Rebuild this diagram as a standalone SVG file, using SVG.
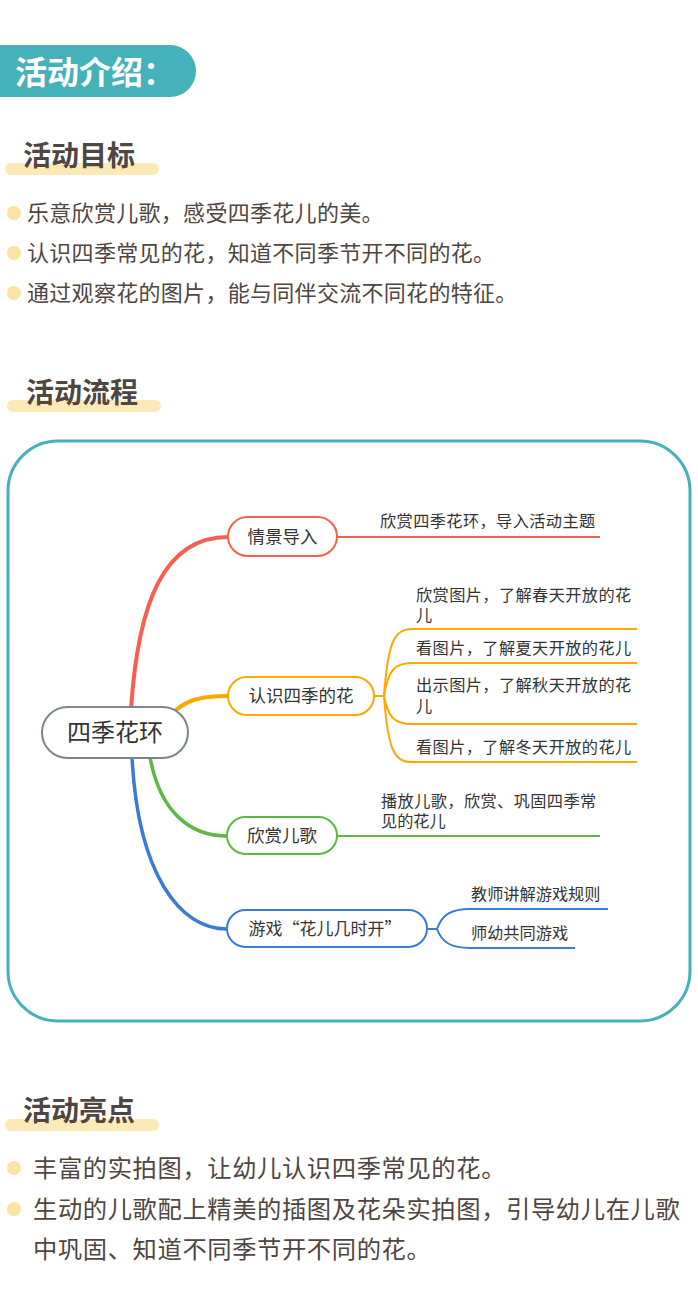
<svg xmlns="http://www.w3.org/2000/svg" width="698" height="1300" viewBox="0 0 698 1300">
<style>
.h{font-family:"Noto Sans CJK SC",sans-serif;font-weight:bold;fill:#4f4541;font-size:28px}
.b{font-family:"Noto Sans CJK SC",sans-serif;fill:#4f4541}
.m{font-family:"Noto Sans CJK SC",sans-serif;fill:#333333;font-size:16.2px}
.n{font-family:"Noto Sans CJK SC",sans-serif;fill:#333333;font-size:17.5px;text-anchor:middle}
.bar{fill:#FDE9B5}
.dot{fill:#FCE2A4}
.node{fill:#ffffff;stroke-width:2}
.c{fill:none}
</style>
<rect width="698" height="1300" fill="#ffffff"/>
<g id="header">
<path d="M0,45 H170 A26,26 0 0 1 170,97 H0 Z" fill="#45B1B8"/>
<text x="15" y="84" font-family="Noto Sans CJK SC,sans-serif" font-weight="bold" font-size="32" fill="#ffffff">活动介绍：</text>
</g>
<g id="goals">
<rect class="bar" x="5" y="163" width="154" height="12" rx="6"/>
<text class="h" x="23" y="166">活动目标</text>
<circle class="dot" cx="14" cy="213" r="7"/>
<text class="b" x="27" y="221" style="font-size:22px" letter-spacing="0.3">乐意欣赏儿歌，感受四季花儿的美。</text>
<circle class="dot" cx="14" cy="253" r="7"/>
<text class="b" x="27" y="261" style="font-size:22px" letter-spacing="0.3">认识四季常见的花，知道不同季节开不同的花。</text>
<circle class="dot" cx="14" cy="293" r="7"/>
<text class="b" x="27" y="301" style="font-size:22px" letter-spacing="0.3">通过观察花的图片，能与同伴交流不同花的特征。</text>
</g>
<g id="process-title">
<rect class="bar" x="7" y="400" width="154" height="12" rx="6"/>
<text class="h" x="26" y="403">活动流程</text>
</g>
<rect id="frame" x="8" y="441" width="682" height="580" rx="50" fill="none" stroke="#45B1B8" stroke-width="3"/>
<g id="connectors">
<path class="c" d="M131,710 C138,600 165,537 228,537" stroke="#F7604E" stroke-width="4"/>
<path class="c" d="M172,714 C185,700 200,696 228,696" stroke="#FFA800" stroke-width="4"/>
<path class="c" d="M150,757 C160,812 190,836 227,836" stroke="#5DB845" stroke-width="3.5"/>
<path class="c" d="M132,757 C138,875 180,929 227,929" stroke="#3A7BD5" stroke-width="3.5"/>
<path class="c" d="M337,537 H600" stroke="#F7604E" stroke-width="2"/>
<g stroke="#FFA800" stroke-width="2" fill="none">
<path d="M374,696 H384"/>
<path d="M384,696 C388,640 395,629 412,629 H637"/>
<path d="M384,696 C388,670 395,663 412,663 H637"/>
<path d="M384,696 C388,718 395,724 412,724 H637"/>
<path d="M384,696 C388,752 395,762 412,762 H637"/>
</g>
<path class="c" d="M337,836 H600" stroke="#5DB845" stroke-width="2"/>
<g stroke="#3A7BD5" stroke-width="2" fill="none">
<path d="M427,929 H437"/>
<path d="M437,929 C442,914 452,909 470,909 H608"/>
<path d="M437,929 C442,943 452,948 470,948 H575"/>
</g>
</g>
<g id="root">
<rect class="node" x="42" y="707" width="146" height="51" rx="25.5" stroke="#7B8592"/>
<text class="n" x="115" y="741" style="font-size:24px">四季花环</text>
</g>
<g id="n1">
<rect class="node" x="228" y="517" width="109" height="39" rx="19.5" stroke="#F7604E"/>
<text class="n" x="282.5" y="543">情景导入</text>
<text class="m" x="380" y="527" letter-spacing="0.4">欣赏四季花环，导入活动主题</text>
</g>
<g id="n2">
<rect class="node" x="228" y="677" width="146" height="38" rx="19" stroke="#FFA800"/>
<text class="n" x="301" y="702">认识四季的花</text>
<text class="m" x="416" y="601" letter-spacing="0.4">欣赏图片，了解春天开放的花</text>
<text class="m" x="416" y="621">儿</text>
<text class="m" x="416" y="654" letter-spacing="0.4">看图片，了解夏天开放的花儿</text>
<text class="m" x="416" y="691" letter-spacing="0.4">出示图片，了解秋天开放的花</text>
<text class="m" x="416" y="712">儿</text>
<text class="m" x="416" y="753" letter-spacing="0.4">看图片，了解冬天开放的花儿</text>
</g>
<g id="n3">
<rect class="node" x="227" y="817" width="110" height="37" rx="18.5" stroke="#5DB845"/>
<text class="n" x="282" y="842">欣赏儿歌</text>
<text class="m" x="381" y="807" letter-spacing="0.4">播放儿歌，欣赏、巩固四季常</text>
<text class="m" x="381" y="827">见的花儿</text>
</g>
<g id="n4">
<rect class="node" x="227" y="910" width="200" height="37" rx="18.5" stroke="#3A7BD5"/>
<text class="n" x="325" y="935" style="font-size:17px">游戏“花儿几时开”</text>
<text class="m" x="471" y="900">教师讲解游戏规则</text>
<text class="m" x="471" y="939">师幼共同游戏</text>
</g>
<g id="highlights">
<rect class="bar" x="5" y="1119" width="154" height="12" rx="6"/>
<text class="h" x="23" y="1121">活动亮点</text>
<circle class="dot" cx="14" cy="1168" r="7"/>
<text class="b" x="33" y="1177" style="font-size:24.3px" letter-spacing="0.6">丰富的实拍图，让幼儿认识四季常见的花。</text>
<circle class="dot" cx="14" cy="1209" r="7"/>
<text class="b" x="33" y="1218" style="font-size:24.3px" letter-spacing="0.6">生动的儿歌配上精美的插图及花朵实拍图，引导幼儿在儿歌</text>
<text class="b" x="33" y="1258" style="font-size:24.3px" letter-spacing="0.6">中巩固、知道不同季节开不同的花。</text>
</g>
</svg>
